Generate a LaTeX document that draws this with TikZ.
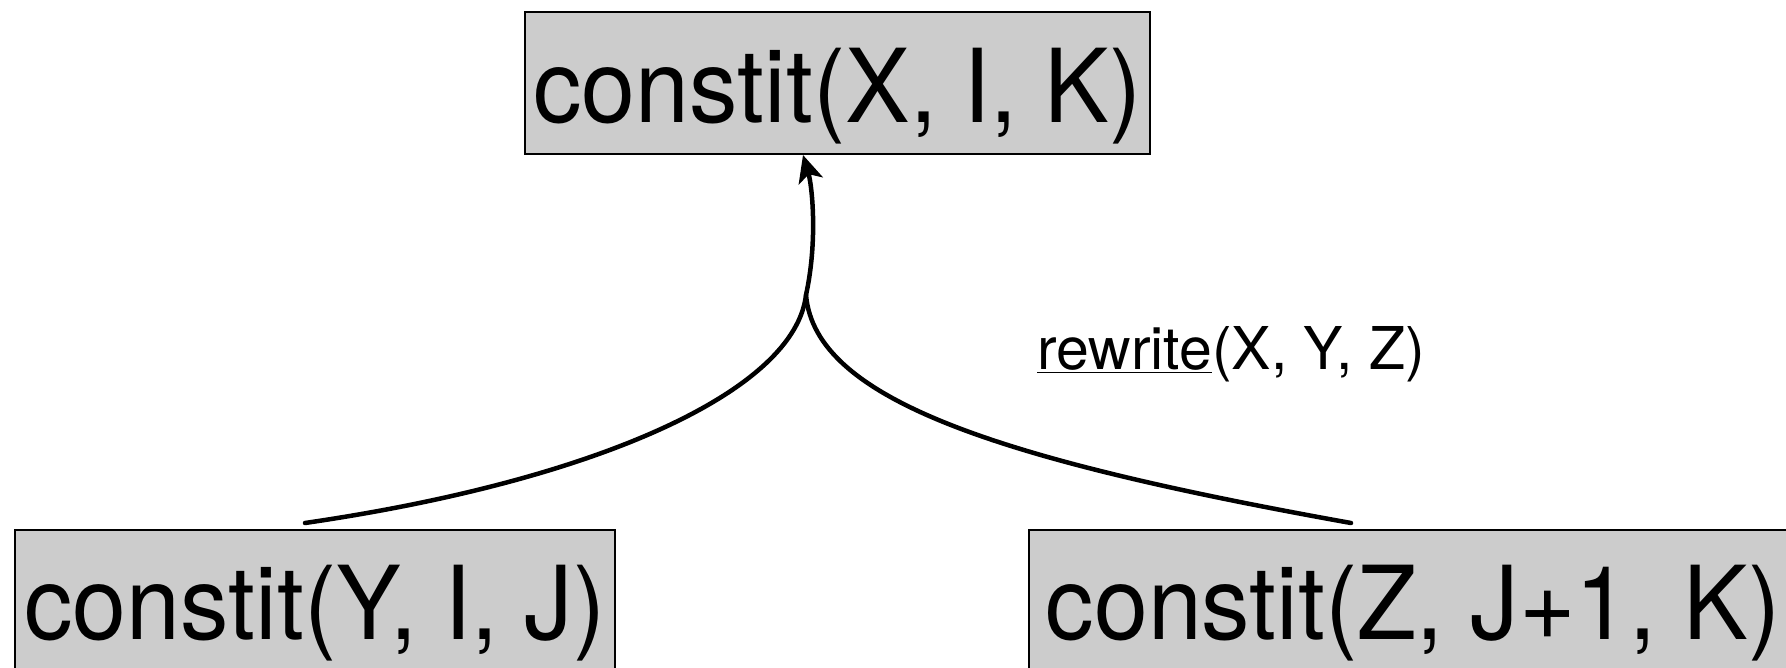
\documentclass[tikz,border=0pt]{standalone}
\usepackage{fontspec}
\setmainfont{TeX Gyre Heros}
\newfontfamily\termfont[FakeStretch=0.95]{TeX Gyre Heros}
\usetikzlibrary{arrows.meta}
\definecolor{boxgray}{HTML}{CCCCCC}
\tikzset{
  termbox/.style={draw=black, line width=2pt, fill=boxgray, inner sep=0pt,
    font=\termfont\fontsize{102}{110}\selectfont},
  conn/.style={line width=4.5pt},
  connarrow/.style={conn, -{Stealth[length=27pt,width=25pt,inset=7pt]}},
}
\begin{document}
\begin{tikzpicture}[x=1pt,y=-1pt]
\useasboundingbox (0,0) rectangle (1786,668);
\clip (0,0) rectangle (1786,668);
\fill[white] (0,0) rectangle (1786,668);
\node[termbox, minimum width=625pt, text height=110.5pt, text depth=31.5pt, anchor=north] (top) at (837.5,11) {constit(X, I, K)};
\node[termbox, minimum width=600pt, text height=109pt, text depth=45pt, anchor=north] (left) at (315,529) {constit(Y, I, J)};
\node[termbox, minimum width=768pt, text height=109pt, text depth=45pt, anchor=north] (right) at (1413,529) {constit(Z, J+1, K)};
\coordinate (tip) at (803,155);
\coordinate (m) at (806,295);
\coordinate (ls) at (305,523);
\coordinate (rs) at (1351,523);
\draw[conn, line cap=round] (ls) .. controls (600,480) and (795,390) .. (m);
\draw[conn, line cap=round] (rs) .. controls (1000,460) and (815,400) .. (m);
\draw[connarrow] (m) .. controls (818,240) and (812,185) .. (tip);
\node[font=\fontsize{59}{66}\selectfont, inner sep=0pt, anchor=base west] (lbl) at (1037,370) {\underline{rewrite}(X, Y, Z)};
\end{tikzpicture}
\end{document}
